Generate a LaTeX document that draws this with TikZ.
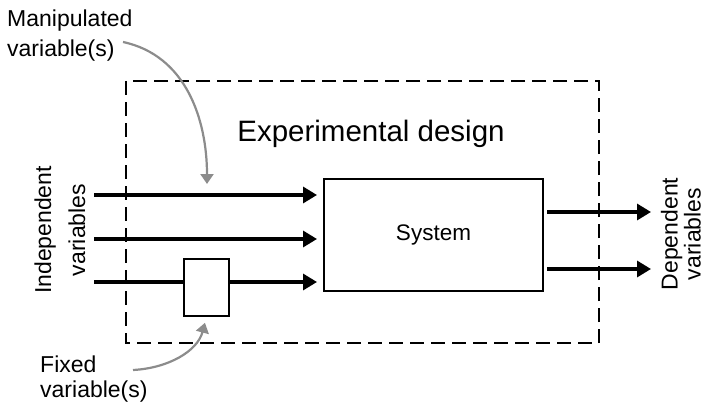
\documentclass[tikz,border=0pt]{standalone}
\usepackage{fontspec}
\setmainfont{Liberation Sans}
\usetikzlibrary{arrows.meta,calc}
\definecolor{curvegrey}{RGB}{140,140,140}
\tikzset{
  flow/.style={line width=3.3pt,-{Triangle[length=14pt,width=16pt]}},
  hint/.style={line width=2.2pt,draw=curvegrey,-{Triangle[length=10pt,width=13pt]}},
  blockbox/.style={draw,line width=2pt,fill=white,inner sep=0pt},
  label/.style={inner sep=0pt,font=\fontsize{23}{25}\selectfont},
}

\begin{document}
\begin{tikzpicture}[x=1pt,y=-1pt]
  \useasboundingbox (0,0) rectangle (707,404);

  \draw[line width=2.2pt,dash pattern=on 14pt off 7pt] (126,81) rectangle (599,343);
  \node[anchor=base,inner sep=0pt,font=\fontsize{29.5}{32}\selectfont] (design) at (371,141) {Experimental design};

  \node[blockbox,minimum width=219pt,minimum height=112pt,font=\fontsize{22.5}{24}\selectfont] (sys) at (433.5,235) {System};
  \node[blockbox,minimum width=45pt,minimum height=57pt] (fixbox) at (206.5,287.5) {};

  \foreach \y/\name in {195/in1,239/in2,282/in3}{
    \coordinate (\name) at (94,\y);
  }
  \draw[flow,shorten >=6pt] (in1) -- (in1 -| sys.west);
  \draw[flow,shorten >=6pt] (in2) -- (in2 -| sys.west);
  \draw[line width=3.3pt] (in3) -- (in3 -| fixbox.west);
  \draw[flow,shorten >=6pt] (in3 -| fixbox.east) -- (in3 -| sys.west);

  \foreach \y/\name in {212/out1,269/out2}{
    \coordinate (\name) at (651,\y);
    \draw[flow,shorten <=3pt] (\name -| sys.east) -- (\name);
  }

  \node[label,rotate=90,align=center,font=\fontsize{23}{34}\selectfont] (indep) at (60,230) {Independent\\variables};
  \node[label,rotate=90,align=center,font=\fontsize{23}{23}\selectfont] (dep) at (681,234) {Dependent\\variables};

  \node[label,anchor=base west,align=left,font=\fontsize{23}{31}\selectfont] (manip) at (7,57) {Manipulated\\variable(s)};
  \node[label,anchor=base west,align=left] (fixed) at (40,397) {Fixed\\variable(s)};

  \coordinate (mstart) at (123,42);
  \coordinate (mtip) at (207,184);
  \draw[hint] (mstart) to[out=-12,in=90] (mtip);
  \coordinate (fstart) at (133,370);
  \draw[hint,shorten >=6pt] (fstart) to[out=3,in=-105] (fixbox.south);
\end{tikzpicture}
\end{document}
